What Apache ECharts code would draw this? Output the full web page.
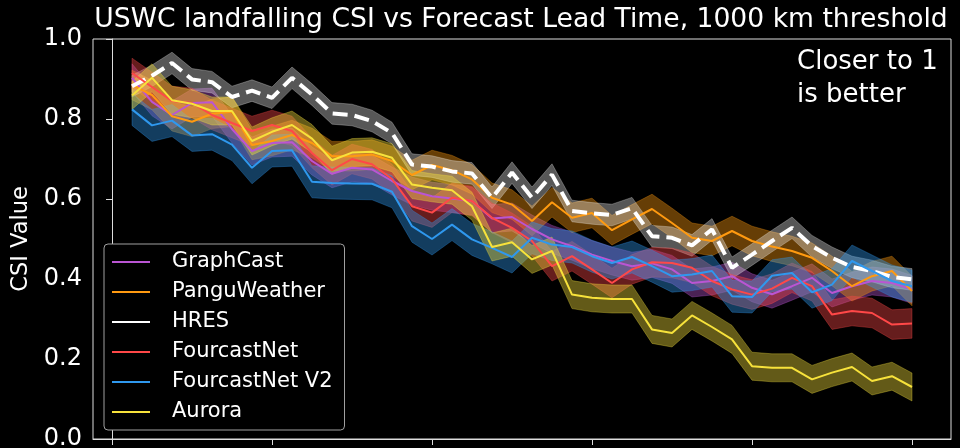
<!DOCTYPE html>
<html>
<head>
<meta charset="utf-8">
<script src="https://cdn.jsdelivr.net/npm/echarts@6/dist/echarts.min.js"></script>
<style>
html,body{margin:0;padding:0;background:#000;}
#chart{width:960px;height:448px;}
</style>
</head>
<body>
<div id="chart"></div>
<script>
// Forecast lead time (hours)
const leadHours = [6,12,18,24,30,36,42,48,54,60,66,72,78,84,90,96,102,108,114,120,
                   126,132,138,144,150,156,162,168,174,180,186,192,198,204,210,216,222,228,234,240];
const xTickValues = [0,48,96,144,192,240];

const modelNames = ['GraphCast','PanguWeather','HRES','FourcastNet','FourcastNet V2','Aurora'];

// CSI values
const graphcast = [0.903,0.843,0.810,0.840,0.842,0.775,0.720,0.740,0.742,0.695,
                   0.663,0.678,0.674,0.645,0.620,0.607,0.601,0.595,0.551,0.555,
                   0.525,0.499,0.482,0.461,0.445,0.432,0.439,0.424,0.390,0.395,
                   0.407,0.378,0.362,0.382,0.403,0.365,0.382,0.395,0.390,0.374];
const pangu     = [0.885,0.860,0.807,0.793,0.813,0.818,0.735,0.745,0.760,0.740,
                   0.707,0.707,0.711,0.695,0.660,0.685,0.672,0.649,0.603,0.586,
                   0.545,0.592,0.553,0.565,0.522,0.549,0.575,0.540,0.503,0.495,
                   0.520,0.495,0.481,0.470,0.453,0.420,0.382,0.407,0.420,0.370];
const hres      = [0.882,0.908,0.940,0.899,0.892,0.855,0.871,0.853,0.903,0.861,
                   0.814,0.810,0.795,0.765,0.686,0.681,0.669,0.664,0.603,0.666,
                   0.603,0.661,0.570,0.564,0.560,0.577,0.507,0.503,0.484,0.524,
                   0.428,0.461,0.495,0.528,0.482,0.453,0.430,0.420,0.405,0.399];
const fourcastnet = [0.915,0.880,0.845,0.840,0.810,0.790,0.770,0.785,0.770,0.715,
                   0.672,0.700,0.687,0.650,0.582,0.566,0.603,0.595,0.553,0.528,
                   0.495,0.432,0.457,0.424,0.390,0.424,0.442,0.440,0.428,0.395,
                   0.374,0.361,0.376,0.403,0.382,0.311,0.320,0.315,0.286,0.289];
const fourcastnetV2 = [0.824,0.784,0.796,0.759,0.762,0.736,0.678,0.720,0.722,0.643,
                   0.640,0.639,0.638,0.618,0.532,0.500,0.536,0.499,0.478,0.455,
                   0.503,0.486,0.480,0.457,0.440,0.455,0.432,0.407,0.411,0.420,
                   0.357,0.355,0.408,0.415,0.367,0.386,0.445,0.420,0.395,0.382];
const aurora    = [0.859,0.903,0.847,0.838,0.820,0.820,0.745,0.768,0.785,0.751,
                   0.697,0.716,0.718,0.703,0.636,0.628,0.622,0.582,0.480,0.492,
                   0.449,0.470,0.361,0.353,0.350,0.350,0.274,0.265,0.309,0.280,
                   0.249,0.182,0.178,0.178,0.149,0.166,0.180,0.145,0.157,0.130];

// half-width of the shaded uncertainty band per model
const bandHalfWidth = [0.035,0.037,0.027,0.037,0.040,0.035];

const modelValues = [graphcast, pangu, hres, fourcastnet, fourcastnetV2, aurora];
const modelColors = ['#BA55D3','#FF9A10','#FFFFFF','#FF4848','#2F98EE','#F7E23B'];
const FONT = 'DejaVu Sans';

const series = [];
modelNames.forEach((name, k) => {
  const vals = modelValues[k];
  const hw = bandHalfWidth[k];
  const color = modelColors[k];
  const isHres = name === 'HRES';
  series.push({
    type: 'line', name: name,
    data: leadHours.map((h, i) => [h, vals[i]]),
    symbol: 'none', showSymbol: false,
    lineStyle: { color: color, width: isHres ? 4 : 2, type: isHres ? [15, 7] : 'solid', cap: 'butt' },
    itemStyle: { color: color },
    z: 2
  });
  series.push({
    type: 'custom', name: name + ' band', silent: true, z: 2,
    data: leadHours.map((h, i) => [h, vals[i] - hw, vals[i] + hw]),
    encode: { x: 0, y: [1, 2] },
    renderItem: (params, api) => {
      if (params.dataIndex !== 0) return null;
      const upper = leadHours.map((h, i) => api.coord([h, vals[i] + hw]));
      const lower = leadHours.map((h, i) => api.coord([h, vals[i] - hw])).reverse();
      return {
        type: 'polygon',
        shape: { points: upper.concat(lower) },
        style: { fill: color, stroke: color, lineWidth: 0.8, opacity: isHres ? 0.34 : 0.4 }
      };
    }
  });
});

const chart = echarts.init(document.getElementById('chart'), null, { renderer: 'canvas' });
chart.setOption({
  animation: false,
  backgroundColor: '#000',
  title: [
    {
      text: 'USWC landfalling CSI vs Forecast Lead Time, 1000 km threshold',
      left: 521, top: 7, textAlign: 'center', padding: 0,
      textStyle: { color: '#fff', fontSize: 26.6, fontWeight: 'normal', fontFamily: FONT }
    },
    {
      text: 'Closer to 1\nis better',
      left: 797, top: 46, padding: 0,
      textStyle: { color: '#fff', fontSize: 26, fontWeight: 'normal', fontFamily: FONT, lineHeight: 33 }
    }
  ],
  grid: { left: 93, right: 9, top: 39, bottom: 9, show: true, borderColor: '#dddddd', borderWidth: 1,
          outerBoundsMode: 'none', containLabel: false },
  legend: {
    data: modelNames,
    orient: 'vertical', left: 104, top: 244,
    icon: 'rect', itemWidth: 38, itemHeight: 2, itemGap: 8,
    selectedMode: false,
    padding: [7, 12, 7, 8],
    backgroundColor: '#000', borderColor: '#a0a0a0', borderWidth: 1, borderRadius: 4,
    itemStyle: { borderWidth: 0 },
    textStyle: { color: '#fff', fontSize: 21, fontFamily: FONT, lineHeight: 22, padding: [0, 0, 0, 17] }
  },
  xAxis: {
    type: 'value', min: -5.7, max: 251.7,
    axisLine: { show: true, lineStyle: { color: '#dddddd', width: 1 } },
    axisTick: { show: true, length: 6, inside: false, customValues: xTickValues, lineStyle: { color: '#dddddd' } },
    axisLabel: { show: true, customValues: xTickValues, color: '#fff', fontSize: 24, fontFamily: FONT, margin: 10 },
    splitLine: { show: false }
  },
  yAxis: {
    type: 'value', min: 0, max: 1, interval: 0.2,
    name: 'CSI Value', nameLocation: 'middle', nameGap: 58,
    nameTextStyle: { color: '#fff', fontSize: 22.5, fontFamily: FONT },
    axisLine: { show: true, lineStyle: { color: '#dddddd', width: 1 } },
    axisTick: { show: true, length: 6, inside: false, lineStyle: { color: '#dddddd' } },
    axisLabel: { color: '#fff', fontSize: 24, fontFamily: FONT, margin: 11, formatter: v => v.toFixed(1) },
    splitLine: { show: false }
  },
  series: series
});
</script>
</body>
</html>
